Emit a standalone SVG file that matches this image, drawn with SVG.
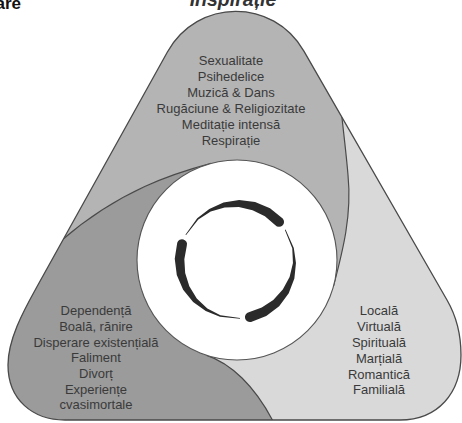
<svg xmlns="http://www.w3.org/2000/svg" xmlns:xlink="http://www.w3.org/1999/xlink" width="462" height="423" viewBox="0 0 462 423">
<style>
.lbl{font-family:"Liberation Sans",Arial,sans-serif;font-size:13px;fill:#3a3a3a;text-anchor:middle}
.sep{fill:none;stroke:#4a4a4a;stroke-width:1.2}
.brush{fill:#2b2b2b}
</style>
<defs>
<path id="outerShape" d="M303.9,51.1 L447,300 C457,317.3 461,335 461,355 C461,393 438,420 400,420 L65,420 C33,420 8,400 8,365 C8,340 22.2,313.2 36.8,287 L167.4,52 C197.3,-1.8 273.2,-2.3 303.9,51.1 Z"/>
<clipPath id="clipOuter"><use xlink:href="#outerShape"/></clipPath>
<path id="brushStroke" d="M62.5,0 L60.18,-16.12 L53.52,-30.9 L43.13,-43.13 L30,-51.96 L15.27,-56.99 L0,-58.3 L-19.8,-54.41 L-19.53,-53.66 L0,-56.7 L14.49,-54.09 L27.5,-47.63 L38.18,-38.18 L46.07,-26.6 L50.9,-13.64 L52.5,0 A5,5 0 0 0 62.5,0 Z"/>
</defs>
<text x="21" y="9" style="font-family:'Liberation Sans',Arial,sans-serif;font-size:17px;font-weight:bold;fill:#111;text-anchor:end">are</text>
<text x="233" y="6" style="font-family:'Liberation Sans',Arial,sans-serif;font-size:19.5px;font-weight:bold;font-style:italic;fill:#333;text-anchor:middle">Inspirație</text>
<g id="lobe-comunitate">
<use xlink:href="#outerShape" fill="#d9d9d9"/>
</g>
<g id="lobe-inspiratie">
<path clip-path="url(#clipOuter)" fill="#b4b4b4" d="M333.6,285.9 C343,250 352,215 348,175 C346,150 343,130 338,80 L338,-20 L-20,-20 L-20,268 L30,268 L62,240 C120,190 175,173 211.1,163.4 L237,260 Z"/>
</g>
<g id="lobe-criza">
<path clip-path="url(#clipOuter)" fill="#9b9b9b" d="M211.1,163.4 C175,173 120,190 62,240 L30,268 L-20,268 L-20,440 L282,440 L275,425 C255,385 230,363 206.1,355.1 L237,260 Z"/>
</g>
<g id="separators" clip-path="url(#clipOuter)">
<path class="sep" d="M333.6,285.9 C343,250 352,215 348,175 C346,150 343,130 338,80"/>
<path class="sep" d="M211.1,163.4 C175,173 120,190 62,240 L30,268"/>
<path class="sep" d="M206.1,355.1 C230,363 255,385 275,425"/>
</g>
<use xlink:href="#outerShape" fill="none" stroke="#4a4a4a" stroke-width="1.3"/>
<g id="center">
<circle cx="237" cy="260" r="100" fill="#ffffff" stroke="#555" stroke-width="1.1"/>
<use xlink:href="#brushStroke" class="brush" transform="translate(237,261) rotate(-43)"/>
<use xlink:href="#brushStroke" class="brush" transform="translate(237,261) rotate(77)"/>
<use xlink:href="#brushStroke" class="brush" transform="translate(237,261) rotate(197)"/>
</g>
<g id="text-inspiratie" class="lbl">
<text x="231" y="65">Sexualitate</text>
<text x="231" y="81">Psihedelice</text>
<text x="231" y="97">Muzică &amp; Dans</text>
<text x="231" y="113">Rugăciune &amp; Religiozitate</text>
<text x="231" y="129">Meditație intensă</text>
<text x="231" y="145">Respirație</text>
</g>
<g id="text-criza" class="lbl">
<text x="96" y="315">Dependență</text>
<text x="96" y="331">Boală, rănire</text>
<text x="96" y="346.5">Disperare existențială</text>
<text x="96" y="362">Faliment</text>
<text x="96" y="378">Divorț</text>
<text x="96" y="393.5">Experiențe</text>
<text x="96" y="409">cvasimortale</text>
</g>
<g id="text-comunitate" class="lbl">
<text x="379" y="315">Locală</text>
<text x="379" y="331">Virtuală</text>
<text x="379" y="347">Spirituală</text>
<text x="379" y="363">Marțială</text>
<text x="379" y="379">Romantică</text>
<text x="379" y="394">Familială</text>
</g>
</svg>
